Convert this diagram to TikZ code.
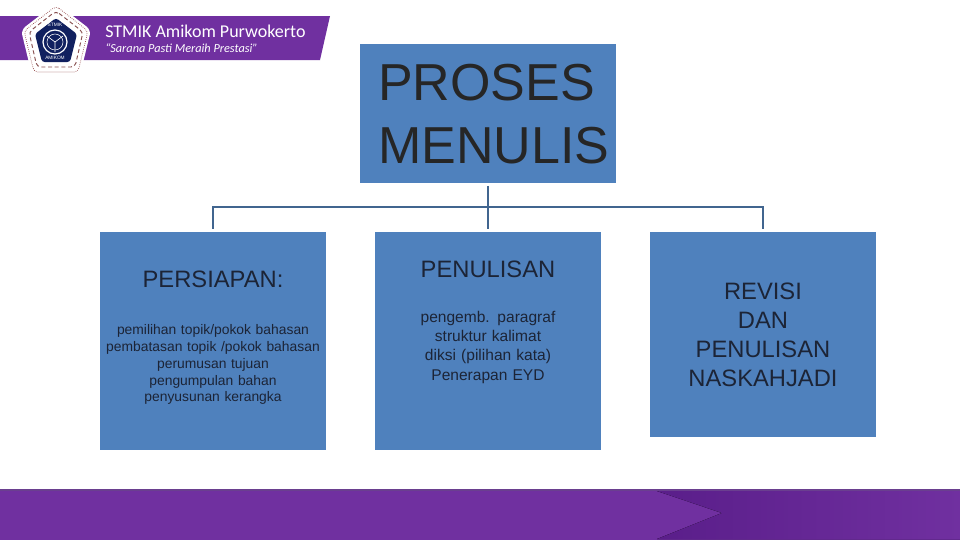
\documentclass[tikz,border=0pt]{standalone}
\usepackage{fontspec}
\setmainfont{Liberation Sans}
\newfontfamily\bandfont{Carlito}
\usetikzlibrary{positioning, calc}
\definecolor{boxblue}{HTML}{4F81BD}
\definecolor{linkblue}{HTML}{41658F}
\definecolor{bandpurple}{HTML}{7030A0}
\definecolor{banddark}{HTML}{5A1E8A}
\definecolor{bandedge}{HTML}{6A3F8F}
\definecolor{logonavy}{HTML}{10205F}
\definecolor{logored}{HTML}{8A3A3A}
\definecolor{inktext}{HTML}{1C2436}

\begin{document}
\begin{tikzpicture}[
    x=0.75pt, y=-0.75pt,
    head/.style={rectangle, fill=boxblue, inner sep=0pt, minimum width=192pt, minimum height=104.25pt},
    stage/.style={rectangle, fill=boxblue, inner sep=0pt, minimum width=169.5pt, anchor=north},
    stagetext/.style={text width=168pt, inner sep=0pt, align=center, text=inktext},
    link/.style={draw=linkblue, line width=1.1pt},
]
    \useasboundingbox (0,0) rectangle (960,540);
    \fill[white] (0,0) rectangle (960,540);

    % Header band
    \fill[bandpurple] (0,16) -- (330,16) -- (320,60) -- (0,60) -- cycle;
    \node[anchor=west, inner sep=0pt, text=white, font=\bandfont\fontsize{13.5}{16}\selectfont] (school) at (105,31) {STMIK Amikom Purwokerto};
    \node[anchor=west, inner sep=0pt, text=white, font=\bandfont\itshape\fontsize{9.2}{10}\selectfont] (motto) at (105,48) {“Sarana Pasti Meraih Prestasi”};

    % Logo
    \fill[white, rounded corners=4pt] (56,3) -- (91,30) -- (80,75) -- (32,75) -- (21,30) -- cycle;
    \draw[logored, densely dotted, line width=0.5pt, rounded corners=3pt] (56,6) -- (88,31) -- (78,72) -- (34,72) -- (24,31) -- cycle;
    \draw[logored!70!gray, densely dashed, line width=0.7pt, rounded corners=3pt] (56,11) -- (83,32) -- (75,67) -- (37,67) -- (29,32) -- cycle;
    \fill[logonavy, rounded corners=2pt] (56,18) -- (77,34) -- (70,62) -- (42,62) -- (35,34) -- cycle;
    \draw[white, line width=0.9pt] (55,42) circle (12);
    \draw[white, line width=0.4pt] (55,42) circle (8);
    \draw[white, line width=0.5pt] (55,42) -- (55,52) (55,42) -- (47,36) (55,42) -- (63,36);
    \node[text=white, inner sep=0pt, font=\fontsize{3.6}{4}\selectfont] (logotop) at (55,25) {STMIK};
    \node[text=white, inner sep=0pt, font=\fontsize{3.6}{4}\selectfont] (logobot) at (55,58) {AMIKOM};

    % Footer band
    \fill[bandpurple] (0,489) rectangle (960,540);
    \fill[bandedge] (0,489) rectangle (960,490.5);
    \fill[left color=banddark, right color=bandpurple] (657,491) -- (960,491) -- (960,539) -- (657,539) -- (722,513) -- cycle;

    % Boxes
    \node[head] (proses) at (488,113.5) {};
    \node[stage, minimum height=163.5pt] (persiapan) at (213,232) {};
    \node[stage, minimum height=163.5pt] (penulisan) at (488,232) {};
    \node[stage, minimum height=153.75pt] (revisi) at (763,232) {};

    % Texts
    \node[anchor=west, inner sep=0pt, align=left, text=black!85, font=\fontsize{39}{47.3}\selectfont] (prosestitle) at (378,114.5) {PROSES\\MENULIS};
    \node[stagetext, font=\fontsize{17.8}{22}\selectfont] (persiapantitle) at (213,279) {PERSIAPAN:};
    \node[stagetext, font=\fontsize{10.4}{12.7}\selectfont] (persiapanlist) at (213,364.5) {pemilihan topik/pokok bahasan\\pembatasan topik /pokok bahasan\\perumusan tujuan\\pengumpulan bahan\\penyusunan kerangka};
    \node[stagetext, font=\fontsize{17.8}{22}\selectfont] (penulisantitle) at (488,269) {PENULISAN};
    \node[stagetext, font=\fontsize{11.65}{14.5}\selectfont] (penulisanlist) at (488,347) {pengemb. paragraf\\struktur kalimat\\diksi (pilihan kata)\\Penerapan EYD};
    \node[stagetext, font=\fontsize{17.8}{21.9}\selectfont] (revisititle) at (763,335) {REVISI\\DAN\\PENULISAN\\NASKAHJADI};

    % Connectors
    \coordinate (bus) at (488,207);
    \draw[link, shorten <=2pt] (proses.south) -- (bus);
    \draw[link, shorten >=2pt] (bus) -- (penulisan.north);
    \draw[link, shorten >=2pt] (bus) -| (persiapan.north);
    \draw[link, shorten >=2pt] (bus) -| (revisi.north);
\end{tikzpicture}
\end{document}
